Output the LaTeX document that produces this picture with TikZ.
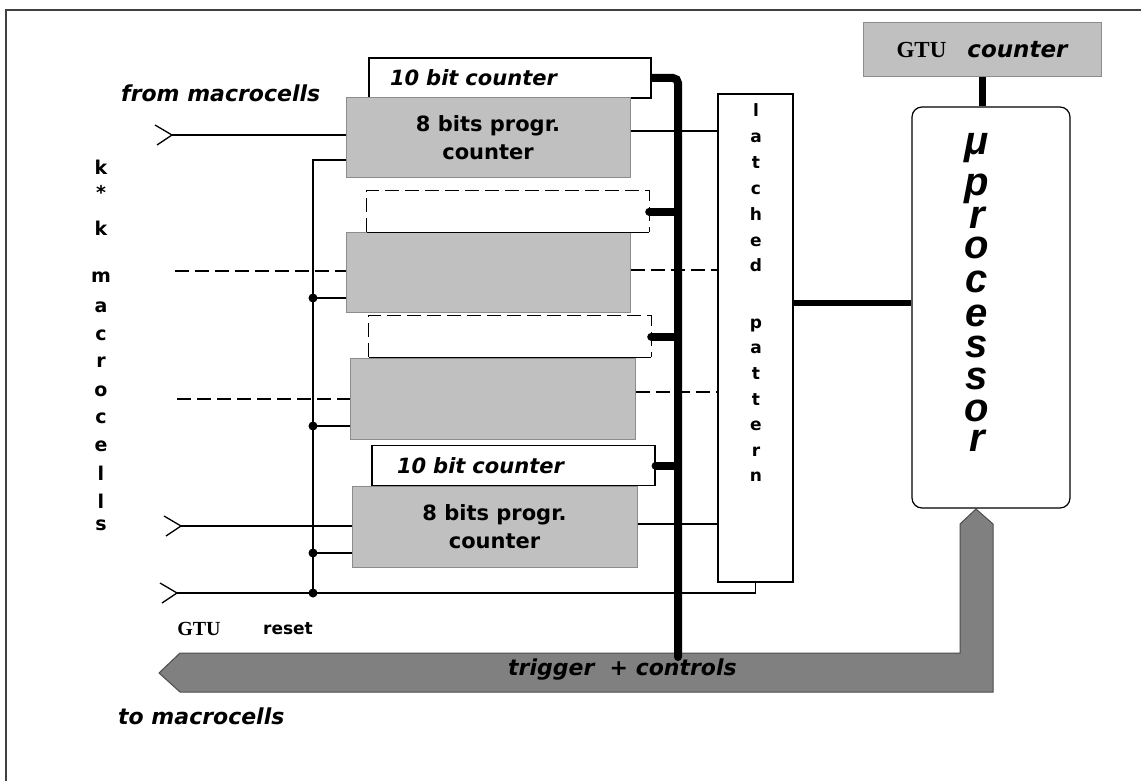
\documentclass[tikz,border=0pt]{standalone}
\usepackage{fontspec}
\setmainfont{Liberation Serif}
\setsansfont{DejaVu Sans}
\newfontfamily\procfont{Liberation Sans}
\usepackage{amsmath}
\usepackage{xcolor}
\usepackage{tkz-euclide}
\usetikzlibrary{calc}

\definecolor{boxgray}{RGB}{192,192,192}
\definecolor{bandgray}{RGB}{128,128,128}
\definecolor{edgegray}{RGB}{140,140,140}

\tikzset{
    graybox/.style={draw=edgegray, fill=boxgray, line width=1pt, inner sep=0pt,
        align=center, font=\sffamily\bfseries\fontsize{21}{28}\selectfont},
    cntbox/.style={draw, fill=white, line width=1.2pt, inner sep=0pt, align=left,
        font=\sffamily\bfseries\itshape\fontsize{21}{25}\selectfont},
    thinwire/.style={line width=1.3pt},
    dashwire/.style={line width=1.3pt, dash pattern=on 14pt off 6pt},
    buswire/.style={line width=8pt, line cap=round},
    junction/.style={circle, fill, inner sep=0pt, minimum size=9pt},
    lbl/.style={inner sep=0pt, font=\sffamily\bfseries\itshape\fontsize{22}{26}\selectfont},
    kkletter/.style={inner sep=0pt, font=\sffamily\bfseries\fontsize{19}{22}\selectfont},
    latchletter/.style={inner sep=0pt, font=\sffamily\bfseries\fontsize{17}{20}\selectfont},
    procletter/.style={inner sep=0pt, text height=18pt, text depth=1pt,
        font=\procfont\bfseries\itshape\fontsize{40}{46}\selectfont},
}

\begin{document}
\begin{tikzpicture}[x=1pt,y=-1pt]
        \useasboundingbox (0,0) rectangle (1141,781);

        \tkzDefPoint(6,781){F_0}
        \tkzDefPoint(6,10){F_1}
        \tkzDefPoint(1141,10){F_2}
        \draw[line width=1.5pt, black!75] (F_0) -- (F_1) -- (F_2);

        \filldraw[fill=bandgray, draw=black!70, line width=1pt]
            (159,673) -- (180,653) -- (960,653) -- (960,524) -- (976,509)
            -- (993,524) -- (993,692) -- (180,692) -- cycle;

        \node[cntbox, minimum width=282, minimum height=40, text width=240] (tc1) at (510,78) {10 bit counter};
        \node[graybox, minimum width=284, minimum height=80] (pc1) at (488,138) {8 bits progr.\\counter};
        \node[minimum width=282, minimum height=41, inner sep=0pt] (dc2) at (508,211.5) {};
        \node[graybox, minimum width=284, minimum height=80] (pc2) at (488,272) {};
        \node[minimum width=282, minimum height=41, inner sep=0pt] (dc3) at (510,336.5) {};
        \node[graybox, minimum width=285, minimum height=81] (pc3) at (492.5,398.5) {};
        \node[cntbox, minimum width=283, minimum height=40, text width=233] (tc4) at (513.5,465.5) {10 bit counter};
        \node[graybox, minimum width=285, minimum height=81] (pc4) at (494.5,526.5) {8 bits progr.\\counter};

        \foreach \d in {dc2,dc3}{
            \draw[line width=1.2pt, dash pattern=on 14pt off 6pt]
                (\d.south west) -- (\d.north west) -- (\d.north east) -- (\d.south east);
            \draw[line width=1.2pt] (\d.south west) -- (\d.south east);
        }

        \node[draw, fill=white, line width=1.2pt, minimum width=75, minimum height=488, inner sep=0pt] (latch) at (755.5,338) {};
        \node[draw, fill=white, line width=1.2pt, rounded corners=10pt, minimum width=158, minimum height=401, inner sep=0pt] (proc) at (991,307.5) {};
        \node[graybox, minimum width=238, minimum height=54, font=\fontsize{23}{26}\selectfont] (gtu) at (982,50)
            {{\rmfamily\bfseries GTU}\hspace{21pt}{\sffamily\bfseries\itshape counter}};

        \tkzDefPoint(678,657){B_0}
        \tkzDefPoint(0,303){H_0}

        \draw[buswire, line cap=butt, rounded corners=5pt] (tc1.east) -| (B_0);
        \foreach \d in {dc2,dc3,tc4}
            \draw[buswire] (\d.east) -- (\d.east -| B_0);
        \draw[line width=6pt] (latch.east |- H_0) -- (proc.west |- H_0);
        \draw[line width=7pt] (gtu.south) -- (gtu.south |- proc.north);

        \tkzDefPoint(0,131){W_1}
        \tkzDefPoint(0,270){W_2}
        \tkzDefPoint(0,392){W_3}
        \tkzDefPoint(0,524){W_4}
        \draw[thinwire] (pc1.east |- W_1) -- (latch.west |- W_1);
        \draw[dashwire] (pc2.east |- W_2) -- (latch.west |- W_2);
        \draw[dashwire] (pc3.east |- W_3) -- (latch.west |- W_3);
        \draw[thinwire] (pc4.east |- W_4) -- (latch.west |- W_4);

        \tkzDefPoint(172,135){I_1}
        \tkzDefPoint(175,271){I_2}
        \tkzDefPoint(177,399){I_3}
        \tkzDefPoint(181,526){I_4}
        \tkzDefPoint(177,593){I_5}

        \tkzDefPoint(313,160){R_0}
        \tkzDefPoint(313,298){R_1}
        \tkzDefPoint(313,426){R_2}
        \tkzDefPoint(313,553){R_3}
        \tkzDefPoint(313,593){R_4}
        \tkzDefPoint(313,597){R_5}

        \draw[thinwire] (I_1) -- (pc1.west |- I_1);
        \draw[dashwire] (I_2) -- (pc2.west |- I_2);
        \draw[dashwire] (I_3) -- (pc3.west |- I_3);
        \draw[thinwire] (I_4) -- (pc4.west |- I_4);
        \draw[thinwire] (I_5) -| (latch.south);
        \foreach \p in {I_1,I_4,I_5}
            \draw[thinwire] ($(\p)+(-17,-10)$) -- (\p) -- ($(\p)+(-15,10)$);

        \draw[thinwire] (pc1.west |- R_0) -- (R_0) -- (R_5);
        \draw[thinwire] (R_1) -- (pc2.west |- R_1);
        \draw[thinwire] (R_2) -- (pc3.west |- R_2);
        \draw[thinwire] (R_3) -- (pc4.west |- R_3);
        \foreach \p in {R_1,R_2,R_3,R_4}
            \node[junction] at (\p) {};

        \draw[buswire] (B_0) -- ++(0,-20);

        \node[lbl, anchor=west] (from) at (121,93) {from macrocells};
        \node[lbl, anchor=west] (tomc) at (118,716) {to macrocells};
        \node[lbl, anchor=west] (trig) at (508,670) {trigger\ \ + controls};
        \node[inner sep=0pt, font=\rmfamily\bfseries\fontsize{20}{24}\selectfont] (gtul) at (199,629) {GTU};
        \node[inner sep=0pt, font=\sffamily\bfseries\fontsize{17}{20}\selectfont] (resetl) at (288,629) {reset};

        \foreach \ch/\yy [count=\i] in {k/175, */200, k/235, m/282, a/312, c/340, r/367,
                o/396, c/423, e/451, l/480, l/508, s/530}
            \node[kkletter, anchor=base] (kk\i) at (101,\yy) {\ch};

        \foreach \ch/\yy [count=\i] in {l/117, a/143, t/168, c/194, h/220, e/246, d/271,
                p/328, a/353, t/379, t/405, e/430, r/456, n/481}
            \node[latchletter, anchor=base] (lp\i) at (756,\yy) {\ch};

        \foreach \ch/\yy [count=\i] in {μ/155, p/195, r/228, o/258, c/292, e/326,
                s/357, s/389, o/421, r/451}
            \node[procletter, anchor=base] (mp\i) at (977,\yy) {\ch};
\end{tikzpicture}
\end{document}
